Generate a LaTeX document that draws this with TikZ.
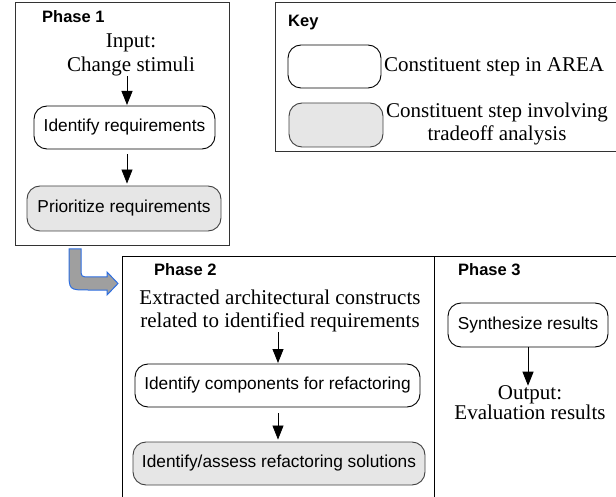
\documentclass[tikz,border=0pt]{standalone}
\usepackage{fontspec}
\setmainfont{Liberation Serif}
\setsansfont{Liberation Sans}
\usetikzlibrary{arrows.meta,positioning}

\definecolor{arrowblue}{RGB}{45,110,225}
\definecolor{tradegray}{RGB}{230,230,230}

\tikzset{
  phasebox/.style={draw, line width=1pt, inner sep=0pt},
  phasetitle/.style={font=\sffamily\bfseries\fontsize{16.5}{19}\selectfont, anchor=west, inner sep=0pt},
  stepbox/.style={draw, line width=0.9pt, rounded corners=13pt, inner sep=0pt,
    font=\sffamily\fontsize{17.3}{20}\selectfont},
  tradebox/.style={stepbox, fill=tradegray, draw=black!75},
  plaintext/.style={font=\fontsize{21}{23.5}\selectfont, align=center, inner sep=0pt},
  flow/.style={-{Triangle[length=14pt,width=11pt]}, line width=0.8pt},
}

\begin{document}
\begin{tikzpicture}[x=1pt,y=-1pt]
  \useasboundingbox (0,0) rectangle (616,497);
  \clip (0,0) rectangle (616,497);

  % Phase 1
  \node[phasebox, draw=black!80, minimum width=214, minimum height=243] (ph1) at (122,124.5) {};
  \node[phasetitle] (ph1title) at (42,17) {Phase 1};
  \node[plaintext] (inp1) at (131,55) {Input:\\Change stimuli};
  \node[stepbox, minimum width=181, minimum height=43] (idreq) at (124.5,127.5) {Identify requirements};
  \node[tradebox, minimum width=194, minimum height=45] (prio) at (124,208.5) {Prioritize requirements};
  \draw[flow] (inp1.south -| 127,0) -- (127,105);
  \draw[flow, shorten <=5pt, shorten >=2pt] (idreq.south -| 127,0) -- (prio.north -| 127,0);

  % Key
  \node[phasebox, draw=black!80, minimum width=350, minimum height=149] (key) at (450,77.5) {};
  \node[phasetitle] (keytitle) at (288,23) {Key};
  \node[stepbox, minimum width=93, minimum height=43] (keystep) at (334.5,66.5) {};
  \node[tradebox, minimum width=94, minimum height=44] (keytrade) at (336,125) {};
  \node[plaintext, anchor=west] (keysteptext) at (384,67) {Constituent step in AREA};
  \node[plaintext] (keytradetext) at (497,124) {Constituent step involving\\tradeoff analysis};

  % flow from phase 1 to phase 2
  \draw[arrowblue, line width=1pt, fill=gray!75]
    (69,249) -- (81,249) -- (81,268) .. controls (81,277) .. (90,277) -- (107,277) -- (107,272)
    -- (118,283.5) -- (107,295) -- (107,290) -- (88,290) .. controls (69,290) .. (69,271) -- cycle;

  % Phase 2
  \node[phasebox, minimum width=312, minimum height=253] (ph2) at (278,383.5) {};
  \node[phasetitle] (ph2title) at (154,270) {Phase 2};
  \node[plaintext] (inp2) at (280,311) {Extracted architectural constructs\\related to identified requirements};
  \node[stepbox, minimum width=285, minimum height=43] (idcomp) at (277.5,385.5) {Identify components for refactoring};
  \node[tradebox, minimum width=292, minimum height=43] (idsol) at (279,463.5) {Identify/assess refactoring solutions};
  \draw[flow] (inp2.south -| 278,0) -- (278,363);
  \draw[flow, shorten <=6pt, shorten >=2pt] (idcomp.south -| 278,0) -- (idsol.north -| 278,0);

  % Phase 3
  \node[phasebox, minimum width=191, minimum height=253] (ph3) at (529.5,383.5) {};
  \node[phasetitle] (ph3title) at (458,270) {Phase 3};
  \node[stepbox, minimum width=160, minimum height=44] (synth) at (528,325) {Synthesize results};
  \node[plaintext, font=\fontsize{21}{20}\selectfont] (out3) at (530,403) {Output:\\Evaluation results};
  \draw[flow] (synth.south -| 528,0) -- (out3.north -| 528,0);
\end{tikzpicture}
\end{document}
